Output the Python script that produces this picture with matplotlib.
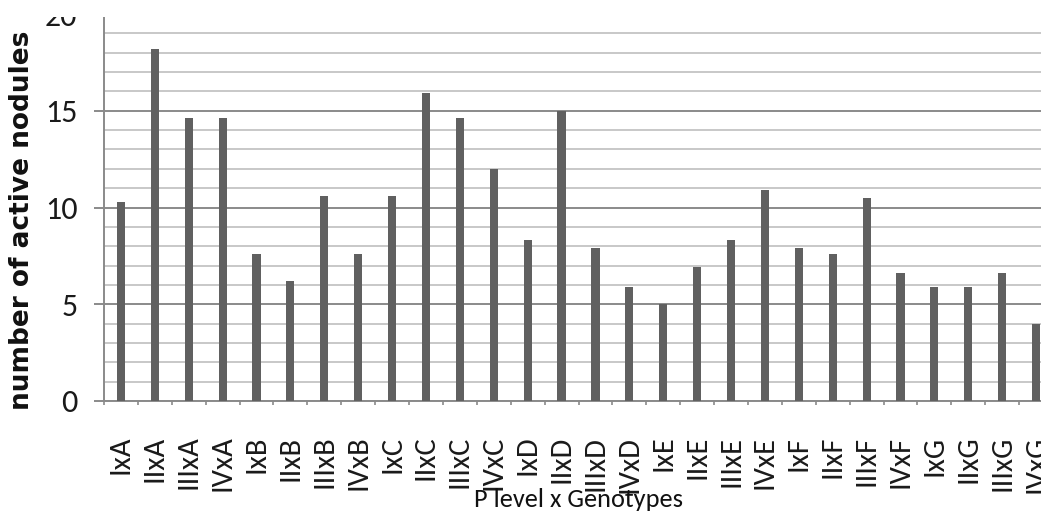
import matplotlib.pyplot as plt
from matplotlib.patches import Rectangle
from matplotlib.ticker import MultipleLocator
import numpy as np

# P level x genotype combinations and active nodule counts
p_levels = ["I", "II", "III", "IV"]
genotypes = ["A", "B", "C", "D", "E", "F", "G"]
labels = [p + "x" + g for g in genotypes for p in p_levels]
nodules = [10.3, 18.2, 14.6, 14.6,
           7.6, 6.2, 10.6, 7.6,
           10.6, 15.9, 14.6, 12.0,
           8.3, 15.0, 7.9, 5.9,
           5.0, 6.9, 8.3, 10.9,
           7.9, 7.6, 10.5, 6.6,
           5.9, 5.9, 6.6, 4.0]

body = ["Carlito", "DejaVu Sans"]

W, H = 1041, 518
fig = plt.figure(figsize=(W / 100, H / 100), dpi=100)
# plot area runs past the right edge of the figure
ax = fig.add_axes([104 / W, 117 / H, 949 / W, 387 / H])

x = np.arange(len(labels))
ax.bar(x, nodules, width=0.24, color="#606060", zorder=3)

ax.set_xlim(-0.5, len(labels) - 0.5)
ax.set_ylim(0, 20)

ax.yaxis.set_major_locator(MultipleLocator(5))
ax.yaxis.set_minor_locator(MultipleLocator(1))
ax.grid(axis="y", which="major", color="#8a8a8a", linewidth=1.4, zorder=1)
ax.grid(axis="y", which="minor", color="#c8c8c8", linewidth=1.4, zorder=1)

ax.set_xticks(x)
ax.set_xticklabels(labels, rotation=90, va="top", ha="center",
                   family=body, fontsize=22, color="#1a1a1a")
ax.set_xticks(np.arange(len(labels) + 1) - 0.5, minor=True)
ax.tick_params(axis="x", which="major", length=0, pad=25)
ax.tick_params(axis="x", which="minor", length=3, color="#8a8a8a", width=1.2)

for t in ax.get_yticklabels():
    t.set_family(body)
ax.tick_params(axis="y", which="major", length=7, color="#8a8a8a", width=1.4,
               pad=12, labelsize=23, labelcolor="#1a1a1a")
ax.tick_params(axis="y", which="minor", length=0)

for side in ["top", "right"]:
    ax.spines[side].set_visible(False)
for side in ["left", "bottom"]:
    ax.spines[side].set_color("#8a8a8a")
    ax.spines[side].set_linewidth(1.4)

fig.text(22 / W, 1 - 220 / H, "number of active nodules", rotation=90,
         ha="center", va="center", fontsize=19, fontweight="bold",
         family="DejaVu Sans", color="#111111")
fig.text(578 / W, 1 - 488 / H, "P level x Genotypes", ha="center", va="top",
         family=body, fontsize=19, color="#111111")

# blank strip across the top
fig.add_artist(Rectangle((0, 1 - 17 / H), 1, 17 / H, transform=fig.transFigure,
                         facecolor="white", edgecolor="none", zorder=20))

fig.savefig("out.png", dpi=100)
